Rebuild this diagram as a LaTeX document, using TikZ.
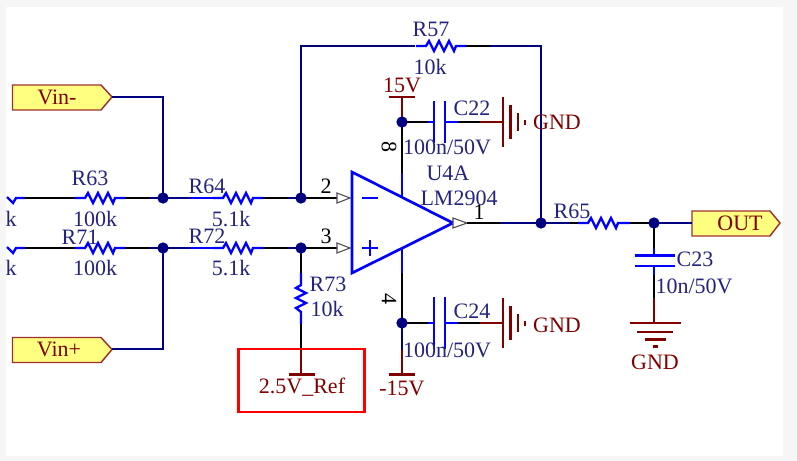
\documentclass[tikz,border=0pt]{standalone}
\usepackage{fontspec}
\setmainfont{Liberation Serif}
\definecolor{wirenavy}{HTML}{000080}
\definecolor{partblue}{HTML}{0000FF}
\definecolor{powerred}{HTML}{800000}
\definecolor{labelblue}{HTML}{24247F}
\definecolor{tagfill}{HTML}{FFFF80}
\definecolor{tagedge}{HTML}{A03030}
\definecolor{pagegray}{HTML}{F6F6F6}
\tikzset{
  wire/.style={draw=wirenavy,line width=1.9pt,line join=miter},
  lead/.style={draw=black,line width=1.9pt},
  part/.style={draw=partblue,line width=1.8pt,line join=miter},
  power/.style={draw=powerred,line width=1.9pt},
  pinmark/.style={draw=black!70,fill=white,line width=0.8pt},
  dotmark/.style={circle,fill=wirenavy,inner sep=0pt,minimum size=8.5pt},
  lbl/.style={text=labelblue,font=\fontsize{16.5}{18}\selectfont,inner sep=0pt},
  pinlbl/.style={text=black,font=\fontsize{16.5}{18}\selectfont,inner sep=0pt},
  powerlbl/.style={text=powerred,font=\fontsize{16.5}{18}\selectfont,inner sep=0pt},
  tagbox/.style={draw=tagedge,fill=tagfill,line width=1.1pt,line join=miter},
}
% horizontal resistor centred at x,y
\newcommand{\hresistor}[2]{%
  \draw[part] (#1-25,#2) -- ++(10,0) -- ++(3,-5) -- ++(5,10) -- ++(5,-10) -- ++(5,10) -- ++(5,-10) -- ++(5,10) -- ++(2,-5) -- ++(10,0);}
\newcommand{\horizcap}[3]{% x of plates centre, y, half height
  \draw[part] (#1-12,#2) -- (#1-6,#2) (#1+5,#2) -- (#1+18,#2);
  \draw[part] (#1-6,#2-#3) -- (#1-6,#2+#3) (#1+5,#2-#3) -- (#1+5,#2+#3);}
\newcommand{\gndright}[2]{%
  \draw[power] (#1,#2-25) -- (#1,#2+25) (#1+7.5,#2-17) -- (#1+7.5,#2+17) (#1+15,#2-9) -- (#1+15,#2+9) (#1+22,#2-2.5) -- (#1+22,#2+2.5);}
\begin{document}
\begin{tikzpicture}[x=0.75pt,y=-0.75pt]
\useasboundingbox (0,0) rectangle (797,461);
\fill[pagegray] (0,0) rectangle (797,461);
\fill[white] (6,7) rectangle (783,456);

% coordinates
\coordinate (jA) at (163,198);
\coordinate (jB) at (301,198);
\coordinate (jC) at (163,248);
\coordinate (jD) at (301,248);
\coordinate (jOut) at (541,223);
\coordinate (jF) at (654,223);
\coordinate (jP) at (402,122);
\coordinate (jN) at (402,323);

% tags
\draw[tagbox] (12.5,85) -- (101,85) -- (112,97) -- (101,110) -- (12.5,110) -- cycle;
\node[powerlbl] (vinm) at (57,97) {Vin-};
\coordinate (vinmTip) at (112,97);
\draw[tagbox] (12.5,337.5) -- (101,337.5) -- (112,349.5) -- (101,362.5) -- (12.5,362.5) -- cycle;
\node[powerlbl] (vinp) at (59,349) {Vin+};
\coordinate (vinpTip) at (112,349);
\draw[tagbox] (692,211) -- (770,211) -- (780,223) -- (770,236) -- (692,236) -- cycle;
\node[powerlbl] (outl) at (740,223) {OUT};
\coordinate (outTip) at (692,223);

% input wires
\draw[wire] (vinmTip) -| (jA);
\draw[wire] (vinpTip) -| (jC);

% row 1
\draw[part] (7,197) -- (13,203) -- (16,198) -- (25,198);
\draw[lead] (25,198) -- (75,198);
\hresistor{100}{198}
\draw[lead] (125,198) -- (150,198);
\draw[wire] (150,198) -- (190,198);
\draw[part] (190,198) -- (213,198);
\hresistor{238}{198}
\draw[lead] (263,198) -- (288,198);
\draw[wire] (288,198) -- (jB);
\draw[lead] (jB) -- (337,198);
\draw[pinmark] (337,193) -- (350,198) -- (337,203) -- cycle;

% row 2
\draw[part] (7,247) -- (13,253) -- (16,248) -- (25,248);
\draw[lead] (25,248) -- (75,248);
\hresistor{100}{248}
\draw[lead] (125,248) -- (150,248);
\draw[wire] (150,248) -- (190,248);
\draw[part] (190,248) -- (213,248);
\hresistor{238}{248}
\draw[lead] (263,248) -- (288,248);
\draw[wire] (288,248) -- (jD);
\draw[lead] (jD) -- (337,248);
\draw[pinmark] (337,243) -- (350,248) -- (337,253) -- cycle;

% R73
\draw[lead] (jD) -- (301,273);
\draw[part] (301,273) -- (301,285) -- (296,288) -- (306,293) -- (296,298) -- (306,303) -- (296,308) -- (301,312) -- (301,324);
\draw[lead] (301,324) -- (301,348);
\draw[power] (301,348) -- (301,374);
\draw[power] (289,374.5) -- (315,374.5);

% ref box
\draw[draw=red,line width=1.7pt] (238.5,349) rectangle (364.5,412);
\node[powerlbl] (ref) at (302,387) {2.5V\_Ref};

% feedback
\draw[wire] (jB) |- (415,46);
\hresistor{441}{46}
\draw[lead] (466,46) -- (490,46);
\draw[wire] (490,46) -| (jOut);

% op amp
\draw[part,line width=2pt] (352,172) -- (453,223) -- (352,273) -- cycle;
\draw[part,line width=1.8pt] (362,198) -- (378,198);
\draw[part,line width=1.8pt] (362,248) -- (378,248) (370,240) -- (370,256);

% output
\draw[pinmark] (453,218) -- (467,223) -- (453,228) -- cycle;
\draw[lead] (467,223) -- (500,223);
\draw[wire] (500,223) -- (570,223);
\draw[lead] (570,223) -- (580,223);
\draw[part] (578,223) -- (588,223) -- (591,218) -- (596,228) -- (601,218) -- (606,228) -- (611,218) -- (616,228) -- (618,223) -- (630,223);
\draw[lead] (630,223) -- (jF);
\draw[wire] (jF) -- (outTip);

% + supply
\draw[part] (402,197) -- (402,173);
\draw[lead] (402,173) -- (jP);
\draw[power] (jP) -- (402,97);
\draw[power] (389,97) -- (415,97);
\draw[lead] (jP) -- (428,122);
\horizcap{440}{122}{21}
\draw[lead] (458,122) -- (480,122);
\draw[power] (480,122) -- (503,122);
\gndright{503}{122}

% - supply
\draw[part] (402,248) -- (402,273);
\draw[lead] (402,273) -- (jN);
\draw[wire] (jN) -- (402,350);
\draw[power] (402,350) -- (402,374);
\draw[power] (389,374.5) -- (415,374.5);
\draw[lead] (jN) -- (428,323);
\horizcap{440}{323}{26}
\draw[lead] (458,323) -- (480,323);
\draw[power] (480,323) -- (503,323);
\gndright{503}{323}

% C23
\draw[lead] (jF) -- (654,248);
\draw[part] (654,248) -- (654,255) (654,266) -- (654,275);
\draw[part] (635,255.5) -- (675,255.5) (635,266) -- (675,266);
\draw[lead] (654,275) -- (654,298);
\draw[power] (654,298) -- (654,323);
\draw[power] (630,323) -- (681,323) (637,332) -- (673,332) (645,339.5) -- (666,339.5) (653,346.5) -- (658,346.5);

% junctions
\foreach \j in {jA,jB,jC,jD,jOut,jF,jP,jN} \node[dotmark] at (\j) {};

% labels
\node[lbl] (l1) at (90,178) {R63};
\node[lbl] (l2) at (95,219) {100k};
\node[lbl] (l3) at (207,186) {R64};
\node[lbl] (l4) at (231,219) {5.1k};
\node[lbl] (l5) at (80,237) {R71};
\node[lbl] (l6) at (95,268) {100k};
\node[lbl] (l7) at (207,236) {R72};
\node[lbl] (l8) at (231,268) {5.1k};
\node[lbl] (l9) at (11,219) {k};
\node[lbl] (l10) at (11,268) {k};
\node[lbl] (l11) at (328,284) {R73};
\node[lbl] (l12) at (327,309) {10k};
\node[lbl] (l13) at (431,29) {R57};
\node[lbl] (l14) at (430,67) {10k};
\node[lbl] (l15) at (472,108) {C22};
\node[lbl] (l16) at (447,147) {100n/50V};
\node[lbl] (l17) at (448,173) {U4A};
\node[lbl] (l18) at (459,198) {LM2904};
\node[lbl] (l19) at (572,211) {R65};
\node[lbl] (l20) at (472,311) {C24};
\node[lbl] (l21) at (447,350) {100n/50V};
\node[lbl] (l22) at (695,259) {C23};
\node[lbl] (l23) at (694,286) {10n/50V};

\node[pinlbl] (p2) at (326,186) {2};
\node[pinlbl] (p3) at (326,236) {3};
\node[pinlbl] (p1) at (479,212) {1};
\node[pinlbl,rotate=-90] (p8) at (389,147) {8};
\node[pinlbl,rotate=-90] (p4) at (389,299) {4};

\node[powerlbl] (v15) at (402,85) {15V};
\node[powerlbl] (vm15) at (402,388) {-15V};
\node[powerlbl] (g1) at (557,122) {GND};
\node[powerlbl] (g2) at (557,325) {GND};
\node[powerlbl] (g3) at (655,362) {GND};
\end{tikzpicture}
\end{document}
